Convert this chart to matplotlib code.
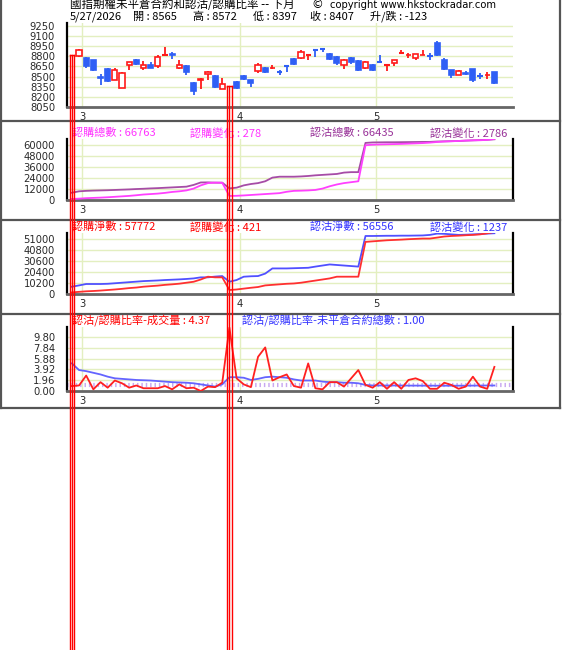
import matplotlib
matplotlib.use("Agg")
import matplotlib.pyplot as plt
from matplotlib.lines import Line2D
from matplotlib.patches import Rectangle
from matplotlib import transforms
import numpy as np

plt.rcParams['font.family'] = ['Noto Sans CJK TC', 'DejaVu Sans']

# ---------------- data ----------------
n_slots = 60
roll_slots = [0, 22]
roll_prices = [8815, 8362]
month_labels = ["3", "4", "5"]
month_pos = [1.45, 23.5, 42.5]

opens = [8806, 8777, 8742, 8495, 8618, 8456, 8337, 8678, 8752, 8628, 8668, 8653, 8811, 8835, 8633, 8658, 8406, 8446, 8535, 8510, 8322,
         8421, 8510, 8456, 8584, 8628, 8623, 8574, 8668, 8757, 8777, 8811, 8900, 8915, 8840, 8791, 8678, 8777, 8732, 8628, 8668, 8727,
         8673, 8702, 8846, 8816, 8777, 8816, 8816, 8999, 8752, 8594, 8530, 8559, 8609, 8520, 8520, 8565]
highs = [8904, 8791, 8752, 8545, 8628, 8633, 8569, 8717, 8767, 8732, 8717, 8816, 8939, 8865, 8742, 8668, 8421, 8480, 8584, 8530, 8485,
         8431, 8530, 8456, 8707, 8643, 8678, 8604, 8678, 8777, 8890, 8826, 8905, 8925, 8855, 8806, 8767, 8791, 8742, 8732, 8683, 8826,
         8678, 8752, 8890, 8851, 8840, 8900, 8851, 9023, 8777, 8594, 8594, 8579, 8619, 8559, 8569, 8572]
lows = [8791, 8633, 8589, 8382, 8421, 8446, 8332, 8604, 8668, 8604, 8628, 8633, 8811, 8767, 8618, 8520, 8224, 8312, 8446, 8332, 8312,
        8312, 8455, 8347, 8559, 8559, 8618, 8520, 8569, 8678, 8767, 8752, 8791, 8865, 8752, 8678, 8609, 8693, 8584, 8618, 8584, 8702,
        8579, 8653, 8841, 8777, 8752, 8816, 8752, 8801, 8594, 8485, 8520, 8520, 8421, 8470, 8460, 8397]
closes = [8890, 8653, 8594, 8480, 8436, 8604, 8554, 8717, 8683, 8678, 8633, 8791, 8816, 8825, 8678, 8569, 8283, 8470, 8569, 8347, 8396,
          8332, 8460, 8406, 8668, 8565, 8633, 8569, 8663, 8693, 8865, 8816, 8895, 8910, 8767, 8707, 8752, 8717, 8604, 8717, 8604, 8722,
          8678, 8752, 8851, 8826, 8840, 8826, 8811, 8816, 8619, 8530, 8584, 8540, 8446, 8515, 8530, 8407]

call_total = [1100, 1500, 2000, 2300, 2600, 3000, 3500, 4000, 4500, 5200, 6000, 6500, 7000, 7800, 8800, 9500, 10500, 12500, 16000, 18500,
              19000, 18800, 4400, 4600, 5000, 5500, 6000, 6500, 7000, 7500, 9000, 10000, 10200, 10500, 11000, 12500, 15000, 17000, 18500,
              19500, 20500, 60000, 60500, 60800, 61000, 61200, 61400, 61700, 62000, 62300, 62800, 63500, 64000, 64300, 64600, 65000,
              65300, 65400, 65800, 66763]
put_total = [8000, 9500, 10000, 10300, 10500, 10700, 11000, 11300, 11600, 12000, 12300, 12700, 13000, 13400, 13800, 14200, 14600, 16500,
             19200, 19300, 19000, 19000, 12700, 13500, 16000, 17500, 18500, 20500, 24500, 25500, 25500, 25500, 25800, 26300, 27000,
             27500, 28000, 28500, 30000, 30500, 30500, 62500, 63000, 63100, 63200, 63200, 63300, 63400, 63500, 63600, 63600, 64000,
             64200, 64400, 64600, 65000, 65300, 65600, 65900, 66435]
call_net = [1500, 2000, 2500, 2800, 3200, 3700, 4200, 4800, 5500, 6000, 6800, 7300, 7800, 8500, 9000, 9600, 10500, 11400, 13500, 16100,
            15500, 15500, 3700, 4200, 5000, 5800, 6500, 8000, 8500, 9000, 9500, 9800, 10500, 11500, 12500, 13500, 14500, 16100, 16100,
            16100, 16100, 48500, 49000, 49500, 50000, 50300, 50600, 51000, 51300, 51600, 51600, 52500, 53500, 54000, 54300, 54700,
            55000, 55500, 56500, 57772]
put_net = [6800, 8000, 9300, 9300, 9300, 9500, 10000, 10500, 11000, 11500, 12000, 12300, 12600, 13000, 13300, 13600, 14000, 14500,
           15500, 15500, 16200, 16700, 11400, 13000, 16100, 16500, 16700, 19000, 23800, 23800, 23800, 24000, 24200, 24400, 25500,
           26500, 27500, 27000, 26500, 26000, 25500, 54000, 54000, 54100, 54200, 54200, 54300, 54300, 54400, 54500, 55000, 56200,
           56000, 55500, 55000, 55200, 55500, 55800, 56200, 56556]
ratio_volume = [0.9, 1.0, 2.8, 0.3, 1.6, 0.6, 1.9, 1.4, 0.6, 1.0, 0.5, 0.5, 0.5, 0.9, 0.3, 1.2, 0.5, 0.6, 0.0, 0.8, 0.7, 1.5, 11.5,
                2.3, 1.2, 0.7, 6.2, 7.9, 1.9, 2.5, 3.0, 0.9, 0.6, 5.0, 0.5, 0.3, 1.6, 1.6, 0.8, 2.3, 3.8, 1.1, 0.6, 1.6, 0.4, 1.6,
                0.4, 2.0, 2.3, 1.8, 0.4, 0.4, 1.5, 1.1, 0.4, 0.8, 2.6, 0.8, 0.4, 4.37]
ratio_oi = [5.0, 3.8, 3.6, 3.3, 3.0, 2.6, 2.3, 2.2, 2.1, 2.0, 1.95, 1.9, 1.8, 1.7, 1.6, 1.55, 1.5, 1.4, 1.2, 1.0, 0.8, 1.2, 2.5,
            2.5, 2.4, 2.0, 2.2, 2.5, 2.6, 2.5, 2.4, 2.1, 1.9, 1.9, 1.9, 1.7, 1.6, 1.6, 1.5, 1.5, 1.4, 1.1, 1.0, 1.0, 1.0, 1.0,
            1.0, 0.98, 0.98, 0.97, 0.97, 0.96, 0.96, 0.96, 0.96, 0.97, 0.98, 0.99, 1.0, 1.0]

price_ticks = [8050, 8200, 8350, 8500, 8650, 8800, 8950, 9100, 9250]
total_ticks = [0, 12000, 24000, 36000, 48000, 60000]
net_ticks = [0, 10200, 20400, 30600, 40800, 51000]
ratio_ticks = [0.00, 1.96, 3.92, 5.88, 7.84, 9.80]

# ---------------- layout ----------------
W, H = 570, 650
fig = plt.figure(figsize=(W / 100, H / 100), dpi=100)
fig.patch.set_facecolor('white')

def fx(px):
    return px / W

def fy(py):
    return 1 - py / H

AX_L, AX_R = 67, 513
XMIN, XMAX = -0.68, 61.6
GRID = '#e3efc0'
TICKC = '#2a2a2a'

def make_ax(top, bottom, right_spine=True):
    ax = fig.add_axes([fx(AX_L), fy(bottom), fx(AX_R - AX_L), (bottom - top) / H])
    ax.set_xlim(XMIN, XMAX)
    ax.spines['top'].set_visible(False)
    ax.spines['left'].set_color('black')
    ax.spines['left'].set_linewidth(1.6)
    ax.spines['bottom'].set_color('#666666')
    ax.spines['bottom'].set_linewidth(2.0)
    if right_spine:
        ax.spines['right'].set_color('black')
        ax.spines['right'].set_linewidth(1.6)
    else:
        ax.spines['right'].set_visible(False)
    ax.set_xticks([])
    ax.tick_params(axis='y', length=0, pad=8.6, labelsize=7.2, labelcolor=TICKC)
    for lab in ax.get_yticklabels():
        lab.set_family('DejaVu Sans')
    for p in month_pos:
        ax.axvline(p, color=GRID, lw=1, zorder=0)
    return ax

def month_text(ax, bottom_py):
    trans = transforms.blended_transform_factory(ax.transData, fig.transFigure)
    for p, lab in zip(month_pos, month_labels):
        fig.text(p, fy(bottom_py + 10), lab, transform=trans, ha='center', va='center',
                 fontsize=7.2, color=TICKC, family='DejaVu Sans')

# Panel 1: candles
ax1 = make_ax(23, 107, right_spine=False)
ax1.set_ylim(8050, 8050 + 84 * 14.81)
ax1.set_yticks(price_ticks)
ax1.set_yticklabels([str(t) for t in price_ticks], family='DejaVu Sans')
for t in price_ticks[1:]:
    ax1.axhline(t, color=GRID, lw=1, zorder=0)
candle_slots = [s for s in range(1, n_slots) if s not in roll_slots]
RED = '#ff1a1a'
BLUE = '#2f5ff5'
bw = 0.72
for s, o, h, l, c in zip(candle_slots, opens, highs, lows, closes):
    up = c >= o
    col = RED if up else BLUE
    lo_b, hi_b = min(o, c), max(o, c)
    ax1.plot([s, s], [l, lo_b], color=col, lw=1.3, zorder=3, solid_capstyle='butt')
    ax1.plot([s, s], [hi_b, h], color=col, lw=1.3, zorder=3, solid_capstyle='butt')
    if hi_b - lo_b < 8:
        ax1.plot([s - bw / 2, s + bw / 2], [c, c], color=col, lw=1.5, zorder=4, solid_capstyle='butt')
    else:
        ax1.add_patch(Rectangle((s - bw / 2, lo_b), bw, hi_b - lo_b,
                                facecolor='white' if up else BLUE, edgecolor=col, lw=1.2, zorder=4))
month_text(ax1, 107)

slots = np.arange(n_slots)

# Panel 2: totals
ax2 = make_ax(139, 200)
ax2.set_ylim(0, max(call_total))
ax2.set_yticks(total_ticks)
ax2.set_yticklabels([str(t) for t in total_ticks], family='DejaVu Sans')
for t in total_ticks[1:]:
    ax2.axhline(t, color=GRID, lw=1, zorder=0)
ax2.plot(slots, put_total, color='#a64ca6', lw=1.3, zorder=3)
ax2.plot(slots, call_total, color='#ff40ff', lw=1.3, zorder=3)
month_text(ax2, 200)

# Panel 3: nets
ax3 = make_ax(233, 294)
ax3.set_ylim(0, max(call_net) - 1000)
ax3.set_yticks(net_ticks)
ax3.set_yticklabels([str(t) for t in net_ticks], family='DejaVu Sans')
for t in net_ticks[1:]:
    ax3.axhline(t, color=GRID, lw=1, zorder=0)
ax3.plot(slots, put_net, color='#5050ff', lw=1.3, zorder=3)
ax3.plot(slots, call_net, color='#ff3030', lw=1.3, zorder=3)
month_text(ax3, 294)

# Panel 4: ratios
ax4 = make_ax(327, 391)
ax4.set_ylim(0, 11.6)
ax4.set_yticks(ratio_ticks)
ax4.set_yticklabels([f"{t:.2f}" for t in ratio_ticks], family='DejaVu Sans')
for t in ratio_ticks[1:]:
    ax4.axhline(t, color=GRID, lw=1, zorder=0)
ax4.axhline(1.0, color='#c8a8f0', lw=3, dashes=(0.35, 0.7), zorder=1)
ax4.plot(slots, ratio_oi, color='#6464ff', lw=1.3, zorder=3)
ax4.plot(slots, ratio_volume, color='#ff2020', lw=1.3, zorder=3)
month_text(ax4, 391)

# ---------------- roll markers (triple red lines) ----------------
fig.canvas.draw()
to_fig = ax1.transData + fig.transFigure.inverted()
trans_x = transforms.blended_transform_factory(ax1.transData, fig.transFigure)
for s, p in zip(roll_slots, roll_prices):
    ytop = to_fig.transform((s, p))[1]
    for dx in (-0.3, 0.0, 0.3):
        fig.add_artist(Line2D([s + dx, s + dx], [0, ytop], transform=trans_x, color='#ff0000', lw=1.0, zorder=5))
    fig.add_artist(Line2D([s - 0.3, s + 0.3], [ytop, ytop], transform=trans_x, color='#ff0000', lw=1.0, zorder=5))

# ---------------- frame ----------------
FR = '#555555'
for (x0, y0, x1, y1) in [(1, 0, 1, 408), (559.5, 0, 559.5, 408), (1, 408, 559.5, 408),
                         (1, 120.5, 559.5, 120.5), (1, 220, 559.5, 220), (1, 314, 559.5, 314)]:
    fig.add_artist(Line2D([fx(x0), fx(x1)], [fy(y0), fy(y1)], transform=fig.transFigure, color=FR, lw=1.6))

# ---------------- texts ----------------
CJK = ['Noto Sans CJK TC', 'DejaVu Sans']
fig.text(fx(70), fy(5), "國指期權未平倉合約和認沽/認購比率 -- 下月", fontsize=8.3, color='black', va='center', family=CJK)
fig.text(fx(311), fy(5), "©", fontsize=8.5, color='black', va='center', family='DejaVu Sans')
fig.text(fx(330), fy(5), "copyright www.hkstockradar.com", fontsize=7.2, color='black', va='center', family='DejaVu Sans')

line2 = [(70, "5/27/2026"), (133, "開 : 8565"), (193, "高 : 8572"), (253, "低 : 8397"), (310, "收 : 8407"), (370, "升/跌 : -123")]
for x, t in line2:
    fig.text(fx(x), fy(16.5), t, fontsize=8.0, color='black', va='center', family=CJK)

MAG = '#ff33ff'
PUR = '#993399'
REDT = '#ff0000'
BLUT = '#3333ff'
hdr = [
    (72, 133, "認購總數 : 66763", MAG), (190, 133, "認購變化 : 278", MAG),
    (310, 133, "認沽總數 : 66435", PUR), (430, 133, "認沽變化 : 2786", PUR),
    (72, 227, "認購淨數 : 57772", REDT), (190, 227, "認購變化 : 421", REDT),
    (310, 227, "認沽淨數 : 56556", BLUT), (430, 227, "認沽變化 : 1237", BLUT),
    (72, 320, "認沽/認購比率-成交量 : 4.37", REDT), (242, 320, "認沽/認購比率-未平倉合約總數 : 1.00", BLUT),
]
for x, y, t, c in hdr:
    fig.text(fx(x), fy(y), t, fontsize=8.0, color=c, va='center', family=CJK)

fig.savefig("out.png", dpi=100, facecolor='white')
